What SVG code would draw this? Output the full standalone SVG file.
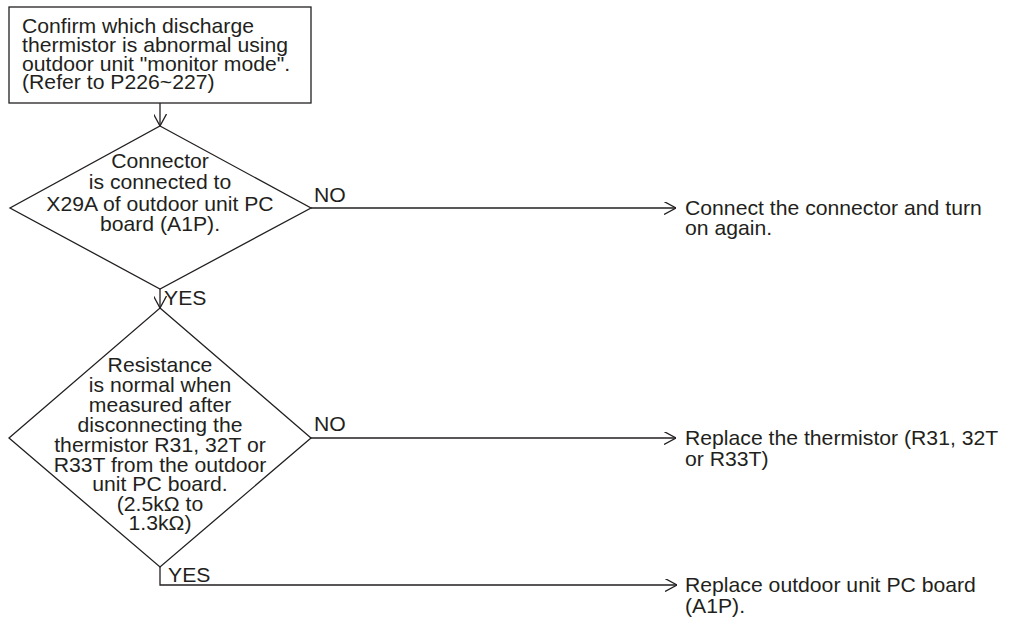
<svg xmlns="http://www.w3.org/2000/svg" width="1010" height="621" viewBox="0 0 1010 621">
<style>
.t{font-family:"Liberation Sans",Arial,Helvetica,sans-serif;font-size:20px;fill:#231f20}
.c{text-anchor:middle}
.s{fill:#fff;stroke:#231f20;stroke-width:1.3}
.ln{fill:none;stroke:#231f20;stroke-width:1.3}
</style>
<defs>
<marker id="ah" viewBox="0 0 12 13" markerWidth="12" markerHeight="13" refX="12" refY="6.5" orient="auto" markerUnits="userSpaceOnUse">
<path d="M0,0 L12,6.5 L0,13" fill="none" stroke="#231f20" stroke-width="1.3"/>
</marker>
</defs>
<rect width="1010" height="621" fill="#fff"/>
<g id="connectors">
<line class="ln" x1="160" y1="103" x2="160" y2="126" marker-end="url(#ah)"/>
<line class="ln" x1="311" y1="208" x2="676" y2="208" marker-end="url(#ah)"/>
<line class="ln" x1="160" y1="289" x2="160" y2="308" marker-end="url(#ah)"/>
<line class="ln" x1="311" y1="438" x2="676" y2="438" marker-end="url(#ah)"/>
<polyline class="ln" points="160,567 160,585 677,585" marker-end="url(#ah)"/>
<g transform="translate(314,0) scale(1.06,1)"><text class="t" x="0" y="202">NO</text><text class="t" x="0" y="431">NO</text></g>
<g transform="translate(164,0) scale(1.06,1)"><text class="t" x="0" y="305">YES</text></g>
<g transform="translate(168,0) scale(1.06,1)"><text class="t" x="0" y="582">YES</text></g>
</g>
<g id="start">
<rect class="s" x="9" y="7" width="302" height="96"/>
<g transform="translate(22,0) scale(1.06,1)">
<text class="t" x="0" y="33">Confirm which discharge</text>
<text class="t" x="0" y="52">thermistor is abnormal using</text>
<text class="t" x="0" y="71">outdoor unit "monitor mode".</text>
<text class="t" x="0" y="89.5">(Refer to P226~227)</text>
</g>
</g>
<g id="decision1">
<polygon class="s" points="160,126 311,208 160,289 10,208"/>
<g transform="translate(160,0) scale(1.06,1)">
<text class="t c" x="0" y="168">Connector</text>
<text class="t c" x="0" y="189">is connected to</text>
<text class="t c" x="0" y="211">X29A of outdoor unit PC</text>
<text class="t c" x="0" y="231">board (A1P).</text>
</g>
</g>
<g id="decision2">
<polygon class="s" points="160,308 311,438 160,567 9,438"/>
<g transform="translate(160,0) scale(1.06,1)">
<text class="t c" x="0" y="372">Resistance</text>
<text class="t c" x="0" y="392">is normal when</text>
<text class="t c" x="0" y="412">measured after</text>
<text class="t c" x="0" y="432">disconnecting the</text>
<text class="t c" x="0" y="452">thermistor R31, 32T or</text>
<text class="t c" x="0" y="472">R33T from the outdoor</text>
<text class="t c" x="0" y="491.5">unit PC board.</text>
<text class="t c" x="0" y="511">(2.5kΩ to</text>
<text class="t c" x="0" y="530">1.3kΩ)</text>
</g>
</g>
<g id="result1">
<g transform="translate(685,0) scale(1.06,1)">
<text class="t" x="0" y="215">Connect the connector and turn</text>
<text class="t" x="0" y="235">on again.</text>
</g>
</g>
<g id="result2">
<g transform="translate(685,0) scale(1.06,1)">
<text class="t" x="0" y="445">Replace the thermistor (R31, 32T</text>
<text class="t" x="0" y="466">or R33T)</text>
</g>
</g>
<g id="result3">
<g transform="translate(685,0) scale(1.06,1)">
<text class="t" x="0" y="592">Replace outdoor unit PC board</text>
<text class="t" x="0" y="613">(A1P).</text>
</g>
</g>
</svg>
